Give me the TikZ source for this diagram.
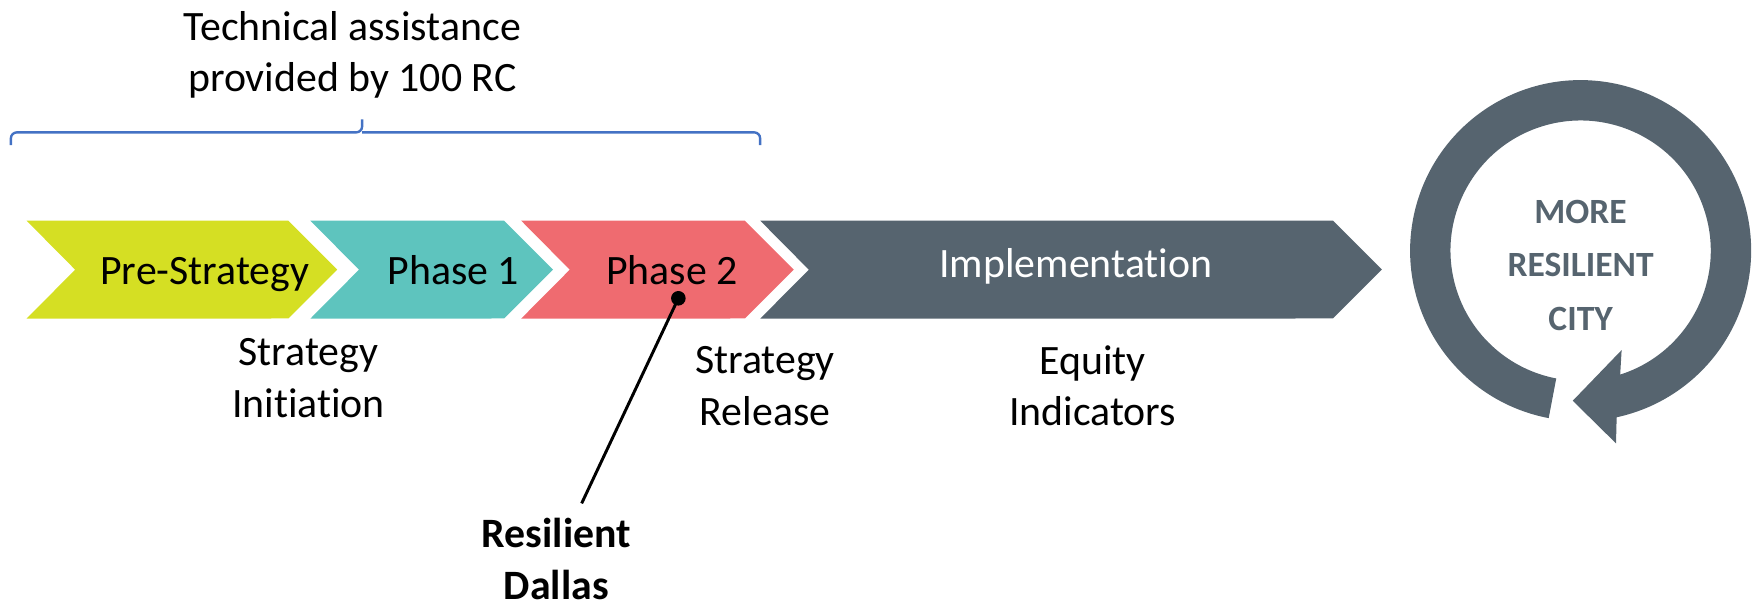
\documentclass[tikz,border=0pt]{standalone}
\usepackage{fontspec}
\setmainfont{Carlito}[Ligatures=NoCommon]
\usetikzlibrary{calc}
\usepackage{xcolor}
\definecolor{prestrat}{HTML}{D5DF23}
\definecolor{phaseone}{HTML}{5EC4BE}
\definecolor{phasetwo}{HTML}{EF6B70}
\definecolor{slate}{HTML}{56646F}
\definecolor{braceblue}{HTML}{4472C4}

\begin{document}
\begin{tikzpicture}[x=0.01cm,y=0.01cm,
        txt/.style={align=center,font=\fontsize{10.6}{13.1}\selectfont},
        bold txt/.style={txt,font=\fontsize{10.6}{13.1}\selectfont\bfseries},
        brace line/.style={braceblue,line width=0.6pt,rounded corners=1.5pt}]
        \useasboundingbox (0,0) rectangle (1568,541);

        % the four chevrons
        \foreach \l/\r/\col in {23.7/257/prestrat,276.7/449.4/phaseone,464.6/664/phasetwo,677.7/1188.2/slate} {
                \fill[\col] (\l,344.3) -- (\r,344.3) -- ++ (43.6,-43.6) -- ++ (-43.6,-43.6) -- (\l,257) -- ++ (43.3,43.6) -- cycle;
            }
        \node[txt,anchor=base] (pre) at (182.5,287) {Pre-Strategy};
        \node[txt,anchor=base] (ph1) at (404,287) {Phase 1};
        \node[txt,anchor=base] (ph2) at (599,287) {Phase 2};
        \node[txt,anchor=base,white] (impl) at (959,294) {Implementation};

        % brace and title
        \draw[brace line] (9.7,411.7) |- (322.8,423) -- (322.8,434.6);
        \draw[brace line] (677.6,411.7) |- (322.8,423);
        \node[txt] (title) at (314,492) {Technical assistance\\provided by 100 RC};

        \node[txt] (init) at (275,204) {Strategy\\Initiation};
        \node[txt] (release) at (682,197) {Strategy\\Release};
        \node[txt] (equity) at (974,197) {Equity\\Indicators};
        \node[bold txt] (dallas) at (496,43) {Resilient\\Dallas};

        \coordinate (pin) at (604.7,275.1);
        \coordinate (pinfoot) at (518.5,92.3);
        \draw[line width=0.75pt] (pin) -- (pinfoot);
        \fill (pin) circle[radius=6.5];

        % circular arrow
        \begin{scope}[shift={(1409,317.6)}]
                \fill[slate] (259.2:152) arc[start angle=259.2,end angle=-77.8,radius=152] -- (-79.6:174.7) -- (-93:134) -- (-67.6:95.9) -- (-72.3:116) arc[start angle=-72.3,end angle=259.2,radius=116] -- cycle;
                \node[align=center,slate,font=\fontsize{9}{13.6}\selectfont\bfseries] (city) at (0,-13.1) {MORE\\RESILIENT\\CITY};
        \end{scope}
    \end{tikzpicture}
\end{document}
